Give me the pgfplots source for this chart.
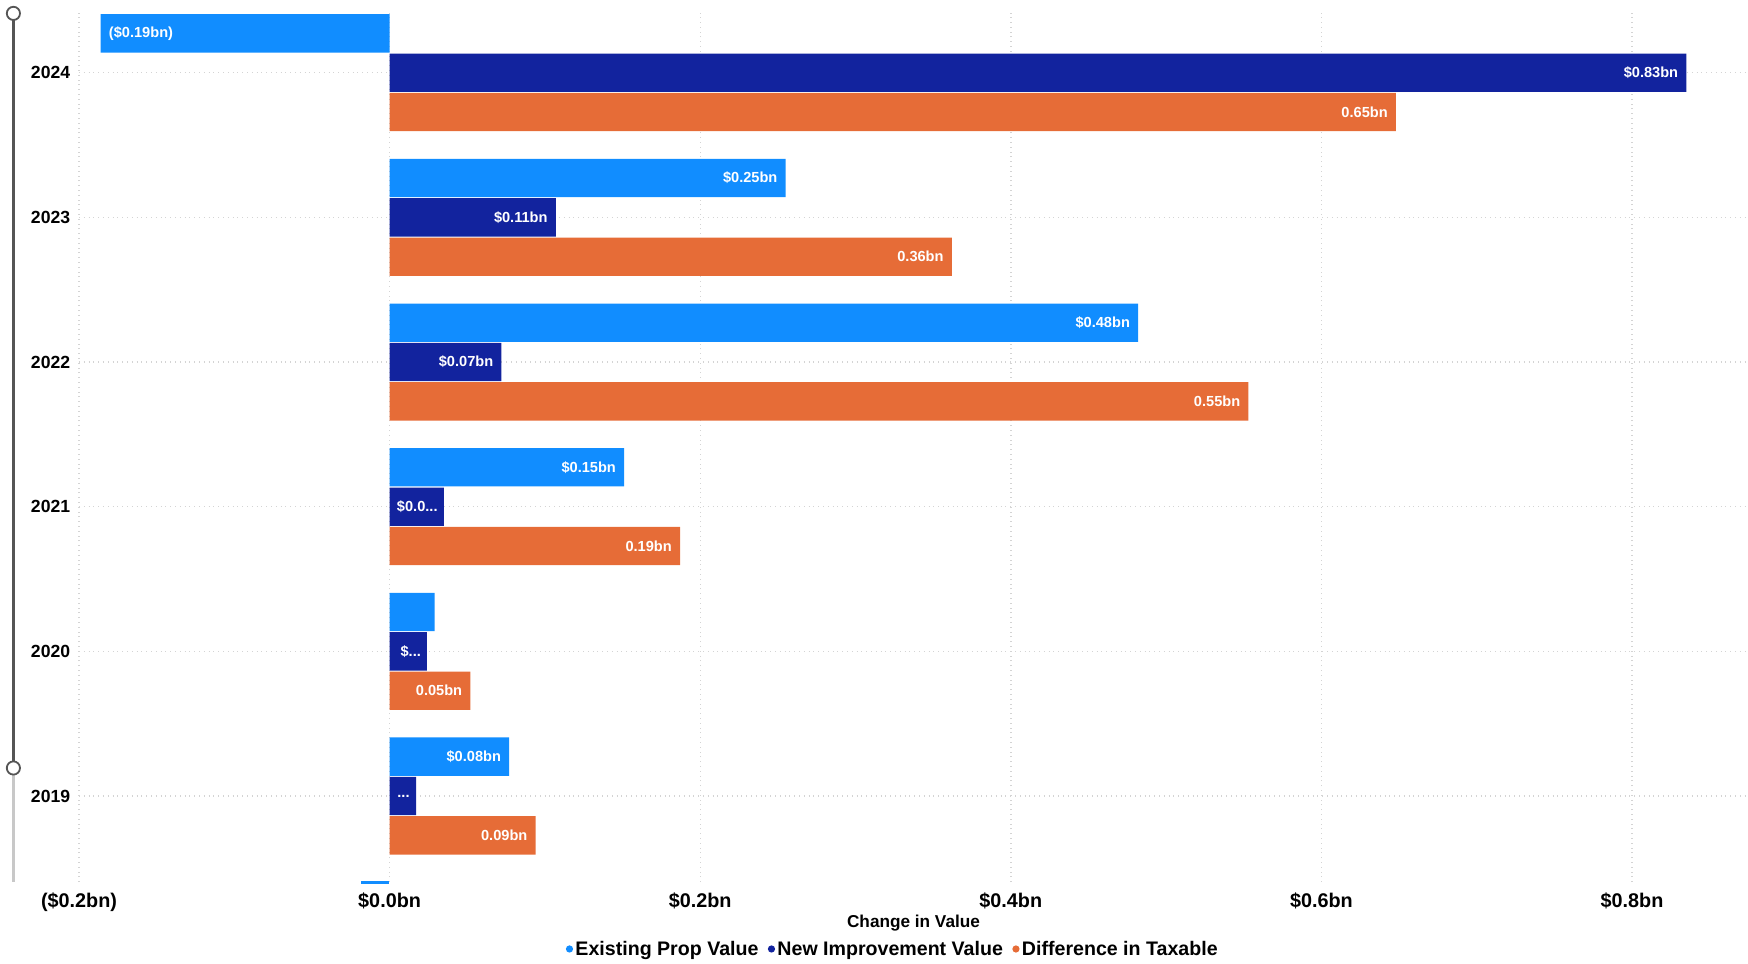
\documentclass[border=0pt]{standalone}
\usepackage{pgfplots}
\pgfplotsset{compat=1.18}
\usepackage{pgfplotstable}
\usepackage{fontspec}
\setmainfont{Liberation Sans}
\definecolor{cExist}{HTML}{118DFF}
\definecolor{cNew}{HTML}{12239E}
\definecolor{cDiff}{HTML}{E66C37}
\definecolor{gridc}{HTML}{D4D4D4}
\definecolor{sliderdark}{HTML}{555555}
\definecolor{sliderlight}{HTML}{C8C8C8}

\pgfplotstableread{
y x lab sh
5 -0.186 {(\$0.19bn)} 3.9
4 0.255 {\$0.25bn} -3.9
3 0.482 {\$0.48bn} -3.9
2 0.151 {\$0.15bn} -3.9
1 0.029 {} -3.9
0 0.077 {\$0.08bn} -3.9
}\existing

\pgfplotstableread{
y x lab sh
5 0.835 {\$0.83bn} -3.9
4 0.107 {\$0.11bn} -3.9
3 0.072 {\$0.07bn} -3.9
2 0.035 {\$0.0...} -3.0
1 0.024 {\$...} -2.8
0 0.017 {...} -3.0
}\newimpr

\pgfplotstableread{
y x lab sh
5 0.648 {0.65bn} -3.9
4 0.362 {0.36bn} -3.9
3 0.553 {0.55bn} -3.9
2 0.187 {0.19bn} -3.9
1 0.052 {0.05bn} -3.9
0 0.094 {0.09bn} -3.9
}\difftax

\begin{document}
\begin{tikzpicture}
\useasboundingbox (0,0) rectangle (874pt,481.5pt);
\begin{axis}[
  at={(39.5pt,40.5pt)}, anchor=south west,
  scale only axis, width=834.5pt, height=434.5pt,
  xmin=-0.2, xmax=0.8747, ymin=-0.5945, ymax=5.4127,
  xbar, bar width=0.265,
  axis line style={draw=none},
  major tick length=0pt,
  xmajorgrids, ymajorgrids,
  grid style={gridc, dotted, line width=0.7pt},
  xtick={-0.2,0,0.2,0.4,0.6,0.8},
  xticklabels={(\$0.2bn),\$0.0bn,\$0.2bn,\$0.4bn,\$0.6bn,\$0.8bn},
  ytick={0,1,2,3,4,5},
  yticklabels={2019,2020,2021,2022,2023,2024},
  xticklabel style={font=\bfseries\fontsize{9.9}{11}\selectfont, yshift=-1.8pt},
  yticklabel style={font=\bfseries\fontsize{8.8}{10}\selectfont, xshift=-0.9pt},
  xlabel={Change in Value},
  xlabel style={font=\bfseries\fontsize{8.6}{10}\selectfont, at={(axis description cs:0.5,0)}, anchor=center, yshift=-20.3pt},
  legend columns=3,
  legend style={at={(axis description cs:0.4877,-0.078)}, anchor=center, draw=none,
    font=\bfseries\fontsize{9.8}{11}\selectfont, inner sep=0pt,
    nodes={inner sep=1.2pt},
    /tikz/every even column/.append style={column sep=3.5pt}},
  legend image code/.code={\fill[#1, draw=none] (0pt,0.4pt) circle (1.8pt);},
  point meta=explicit symbolic,
  nodes near coords,
  visualization depends on={\thisrow{sh}\as\sh},
  every node near coord/.append style={font=\bfseries\fontsize{7.3}{8}\selectfont, text=white,
     anchor={\ifdim\sh pt>0pt west\else east\fi}, xshift=\sh pt, inner sep=0pt},
]
\addplot[fill=cExist, draw=none, bar shift=0.272] table[x=x, y=y, meta=lab] {\existing};
\addlegendentry{Existing Prop Value}
\addplot[fill=cNew, draw=none, bar shift=0] table[x=x, y=y, meta=lab] {\newimpr};
\addlegendentry{New Improvement Value}
\addplot[fill=cDiff, draw=none, bar shift=-0.272] table[x=x, y=y, meta=lab] {\difftax};
\addlegendentry{Difference in Taxable}
\end{axis}
% slider decoration
\draw[sliderdark, line width=1.6pt] (6.7pt,474.8pt) -- (6.7pt,97.5pt);
\draw[sliderlight, line width=1.6pt] (6.7pt,97.5pt) -- (6.7pt,40.5pt);
\draw[sliderdark, fill=white, line width=0.9pt] (6.7pt,474.8pt) circle (3.3pt);
\draw[sliderdark, fill=white, line width=0.9pt] (6.7pt,97.5pt) circle (3.3pt);
\draw[cExist, line width=1.5pt] (180.5pt,40.3pt) -- (194.5pt,40.3pt);
\end{tikzpicture}
\end{document}
